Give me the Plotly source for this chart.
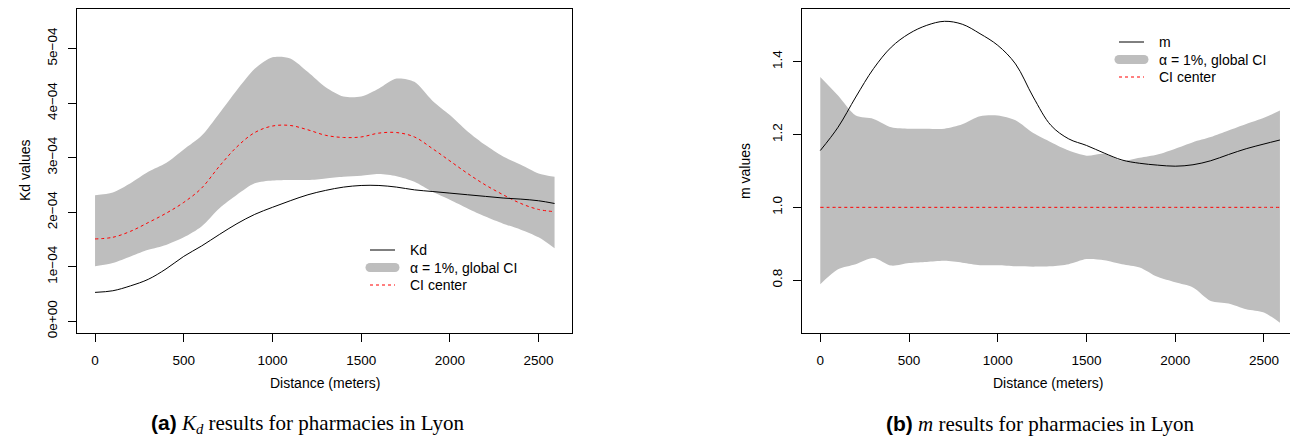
import plotly.graph_objects as go

# ---------------- data ----------------
distance = [0, 100, 200, 300, 400, 500, 600, 700, 800, 900, 1000, 1100, 1200,
            1300, 1400, 1500, 1600, 1700, 1800, 1900, 2000, 2100, 2200, 2300,
            2400, 2500, 2590]

# Panel (a): Kd (values in units of 1e-4)
kd_obs = [0.53, 0.56, 0.65, 0.77, 0.96, 1.19, 1.38, 1.59, 1.79, 1.96, 2.09, 2.21,
          2.32, 2.40, 2.46, 2.49, 2.49, 2.46, 2.41, 2.38, 2.35, 2.32, 2.29, 2.26,
          2.24, 2.21, 2.16]
kd_center = [1.51, 1.54, 1.65, 1.81, 1.98, 2.18, 2.44, 2.84, 3.20, 3.46, 3.58, 3.59,
             3.51, 3.41, 3.37, 3.38, 3.45, 3.46, 3.38, 3.17, 2.94, 2.71, 2.50, 2.32,
             2.16, 2.05, 2.01]
kd_upper = [2.31, 2.36, 2.53, 2.74, 2.90, 3.15, 3.40, 3.81, 4.24, 4.63, 4.84, 4.82,
            4.57, 4.29, 4.12, 4.12, 4.27, 4.45, 4.39, 4.05, 3.78, 3.48, 3.23, 3.02,
            2.87, 2.71, 2.65]
kd_lower = [1.01, 1.07, 1.19, 1.31, 1.40, 1.54, 1.74, 2.07, 2.32, 2.53, 2.58, 2.59,
            2.59, 2.62, 2.65, 2.67, 2.70, 2.66, 2.56, 2.38, 2.23, 2.07, 1.92, 1.79,
            1.68, 1.54, 1.34]
kd_scale = 1e-4

# Panel (b): m
m_obs = [1.156, 1.220, 1.303, 1.381, 1.440, 1.477, 1.500, 1.511, 1.503, 1.477,
         1.445, 1.394, 1.303, 1.225, 1.188, 1.170, 1.149, 1.130, 1.121, 1.116,
         1.113, 1.117, 1.128, 1.145, 1.161, 1.174, 1.185]
m_center = [1.0] * len(distance)
m_upper = [1.358, 1.307, 1.252, 1.243, 1.220, 1.216, 1.216, 1.216, 1.228, 1.250,
           1.252, 1.239, 1.204, 1.179, 1.156, 1.142, 1.147, 1.128, 1.136, 1.145,
           1.161, 1.179, 1.193, 1.211, 1.229, 1.246, 1.266]
m_lower = [0.789, 0.830, 0.844, 0.861, 0.840, 0.847, 0.850, 0.853, 0.848, 0.841,
           0.841, 0.838, 0.837, 0.838, 0.844, 0.858, 0.855, 0.844, 0.835, 0.809,
           0.794, 0.780, 0.743, 0.736, 0.720, 0.711, 0.683]

x_ticks = [0, 500, 1000, 1500, 2000, 2500]
kd_ticks = [0, 1e-4, 2e-4, 3e-4, 4e-4, 5e-4]
kd_tick_labels = ["0e+00", "1e\u221204", "2e\u221204", "3e\u221204", "4e\u221204", "5e\u221204"]
m_ticks = [0.8, 1.0, 1.2, 1.4]
m_tick_labels = ["0.8", "1.0", "1.2", "1.4"]

# ---------------- figure ----------------
# The page body keeps its default 8px margin, so the figure is drawn 8px in.
OFF = 8
PAGE_W, PAGE_H = 1298, 440
W, H = PAGE_W - OFF, PAGE_H - OFF
SANS = "Liberation Sans, Arial, Helvetica, sans-serif"
SERIF = "Liberation Serif, Times New Roman, serif"
GRAY = "#BEBEBE"
FS = 13.5


def px(x):
    return (x - OFF) / W


def py(y):
    return 1 - (y - OFF) / H


fig = go.Figure()


def add_panel(xa, ya, lower, upper, center, obs):
    fig.add_trace(go.Scatter(x=distance, y=lower, mode="lines",
                             line=dict(width=0, shape="spline", smoothing=0.8),
                             xaxis=xa, yaxis=ya, showlegend=False, hoverinfo="skip"))
    fig.add_trace(go.Scatter(x=distance, y=upper, mode="lines",
                             line=dict(width=0, shape="spline", smoothing=0.8),
                             fill="tonexty", fillcolor=GRAY, xaxis=xa, yaxis=ya,
                             showlegend=False, hoverinfo="skip"))
    fig.add_trace(go.Scatter(x=distance, y=center, mode="lines",
                             line=dict(color="red", width=1, dash="3px,3px",
                                       shape="spline", smoothing=1.0),
                             xaxis=xa, yaxis=ya, showlegend=False))
    fig.add_trace(go.Scatter(x=distance, y=obs, mode="lines",
                             line=dict(color="black", width=1, shape="spline", smoothing=1.0),
                             xaxis=xa, yaxis=ya, showlegend=False))


add_panel("x", "y",
          [v * kd_scale for v in kd_lower], [v * kd_scale for v in kd_upper],
          [v * kd_scale for v in kd_center], [v * kd_scale for v in kd_obs])
add_panel("x2", "y2", m_lower, m_upper, m_center, m_obs)

ydom = [py(333.3), py(9.3)]
axis_common = dict(showline=True, linecolor="black", linewidth=1, mirror=True,
                   ticks="outside", ticklen=8, tickcolor="black", tickwidth=1,
                   showgrid=False, zeroline=False, automargin=False,
                   tickfont=dict(family=SANS, size=FS, color="black"))

fig.update_layout(
    width=W, height=H,
    margin=dict(l=0, r=0, t=0, b=0, autoexpand=False),
    paper_bgcolor="white", plot_bgcolor="white",
    showlegend=False,
    xaxis=dict(domain=[px(77.3), px(572.3)], range=[-100, 2690],
               tickvals=x_ticks, ticklabelstandoff=6, anchor="y", **axis_common),
    yaxis=dict(domain=ydom, range=[-0.22e-4, 5.72e-4], tickvals=kd_ticks,
               ticktext=kd_tick_labels, tickangle=-90, ticklabelstandoff=6,
               anchor="x", **axis_common),
    xaxis2=dict(domain=[px(802), px(1292)], range=[-103, 2658],
                tickvals=x_ticks, ticklabelstandoff=6, anchor="y2", **axis_common),
    yaxis2=dict(domain=ydom, range=[0.654, 1.544], tickvals=m_ticks,
                ticktext=m_tick_labels, tickangle=-90, ticklabelstandoff=6,
                anchor="x2", **axis_common),
)

annots = []
shapes = []


def text(x, y, s, size=FS, family=SANS, angle=0, xanchor="center"):
    annots.append(dict(x=px(x), y=py(y), xref="paper", yref="paper", text=s,
                       showarrow=False, textangle=angle, xanchor=xanchor,
                       yanchor="middle", font=dict(family=family, size=size, color="black")))


# axis titles
text(324.8, 383, "Distance (meters)", size=14)
text(1048, 383, "Distance (meters)", size=14)
text(25, 171, "Kd values", angle=-90, size=14)
text(745, 171, "m values", angle=-90, size=14)

# captions
text(307, 424, "<span style='font-family:Liberation Sans;font-weight:bold'>(a)</span> "
     "<i>K<sub>d</sub></i> results for pharmacies in Lyon", size=21, family=SERIF)
text(1040, 424, "<span style='font-family:Liberation Sans;font-weight:bold'>(b)</span> "
     "<i>m</i> results for pharmacies in Lyon", size=21, family=SERIF)


# legends (drawn manually to imitate R's legend)
def legend(x0, y0, label_obs):
    dy = 17.5
    shapes.append(dict(type="line", xref="paper", yref="paper",
                       x0=px(x0 + 3), x1=px(x0 + 28), y0=py(y0), y1=py(y0),
                       line=dict(color="black", width=1)))
    shapes.append(dict(type="line", xref="paper", yref="paper",
                       x0=px(x0 + 3), x1=px(x0 + 28), y0=py(y0 + dy), y1=py(y0 + dy),
                       line=dict(color=GRAY, width=9)))
    for cx in (x0 + 3, x0 + 28):
        shapes.append(dict(type="circle", xref="paper", yref="paper",
                           x0=px(cx - 4.5), x1=px(cx + 4.5),
                           y0=py(y0 + dy + 4.5), y1=py(y0 + dy - 4.5),
                           fillcolor=GRAY, line=dict(width=0)))
    shapes.append(dict(type="line", xref="paper", yref="paper",
                       x0=px(x0 + 3), x1=px(x0 + 28), y0=py(y0 + 2 * dy), y1=py(y0 + 2 * dy),
                       line=dict(color="red", width=1, dash="3px,3px")))
    tx = x0 + 41
    text(tx, y0, label_obs, xanchor="left", size=14)
    text(tx, y0 + dy, "\u03b1 = 1%, global CI", xanchor="left", size=14)
    text(tx, y0 + 2 * dy, "CI center", xanchor="left", size=14)


legend(367, 250, "Kd")
legend(1116, 42, "m")

fig.update_layout(annotations=annots, shapes=shapes)
fig.write_html("out.html")
